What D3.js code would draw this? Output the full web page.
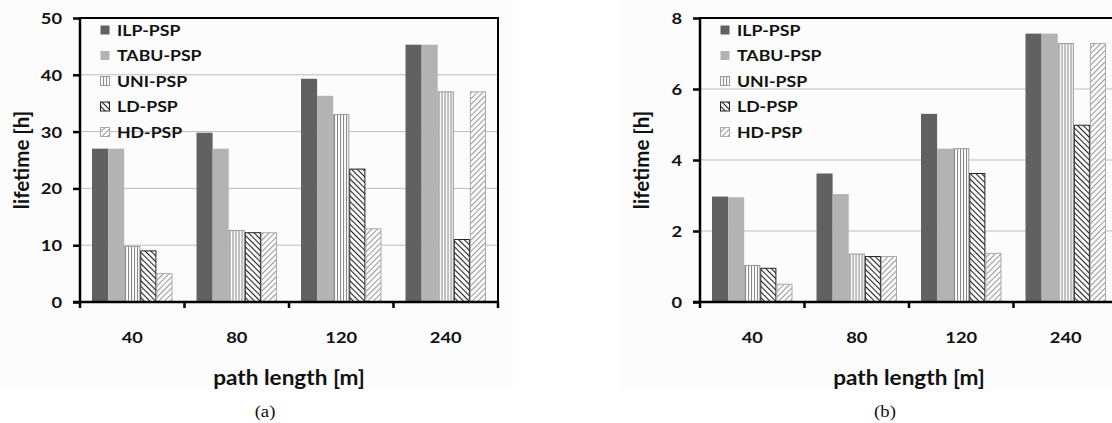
<!DOCTYPE html>
<html>
<head>
<meta charset="utf-8">
<script src="https://cdn.jsdelivr.net/npm/d3@7"></script>
<style>
  body { margin: 0; background: #fff; }
  text { font-family: Lato, "Open Sans", sans-serif; font-weight: bold; fill: #111; }
  .caption { font-family: "Liberation Serif", "DejaVu Serif", serif; font-weight: normal; }
</style>
</head>
<body>
<svg id="chart" width="1112" height="423"></svg>
<script>
const categories = ['40', '80', '120', '240'];
const seriesNames = ['ILP-PSP', 'TABU-PSP', 'UNI-PSP', 'LD-PSP', 'HD-PSP'];

// panel (a): lifetime [h] per path length, one array per series
const aILP = [27, 29.8, 39.3, 45.3];
const aTABU = [27, 27, 36.3, 45.3];
const aUNI = [9.8, 12.6, 33, 37];
const aLD = [9, 12.2, 23.4, 11];
const aHD = [5, 12.2, 12.9, 37];
const aTicks = [0, 10, 20, 30, 40, 50];

// panel (b)
const bILP = [2.97, 3.62, 5.3, 7.56];
const bTABU = [2.95, 3.04, 4.32, 7.56];
const bUNI = [1.03, 1.35, 4.32, 7.28];
const bLD = [0.95, 1.28, 3.62, 4.98];
const bHD = [0.5, 1.28, 1.37, 7.28];
const bTicks = [0, 2, 4, 6, 8];

const PLOT_W = 418;
const PLOT_TOP = 18;
const PLOT_BOTTOM = 302;
// the source picture is a bit wider than tall, text looks stretched
const STRETCH = 1.22;

const svg = d3.select('#chart');
const defs = svg.append('defs');

function addPattern(id, size, angle, color) {
    const p = defs.append('pattern')
        .attr('id', id)
        .attr('patternUnits', 'userSpaceOnUse')
        .attr('width', size)
        .attr('height', size)
        .attr('patternTransform', `rotate(${angle})`);
    p.append('rect').attr('width', size).attr('height', size).attr('fill', '#fff');
    p.append('line')
        .attr('x1', 0.5).attr('y1', 0)
        .attr('x2', 0.5).attr('y2', size)
        .attr('stroke', color)
        .attr('stroke-width', 1.2);
}
addPattern('uni', 3, 0, '#8a8a8a');
addPattern('ld', 4, -45, '#222');
addPattern('hd', 4, 45, '#999');

const styles = [
    {fill: '#616161', stroke: 'none'},
    {fill: '#b3b3b3', stroke: 'none'},
    {fill: 'url(#uni)', stroke: '#999'},
    {fill: 'url(#ld)', stroke: '#222'},
    {fill: 'url(#hd)', stroke: '#aaa'}
];

function placeText(sel, x, y, sx) {
    sel.attr('x', 0).attr('y', 0)
        .attr('transform', (d, i) => `translate(${typeof x === 'function' ? x(d, i) : x},${y}) scale(${sx},1)`);
}

function drawPanel(offsetX, series, ticks, caption, bgX, bgW) {
    svg.append('rect')
        .attr('x', bgX).attr('y', 0)
        .attr('width', bgW).attr('height', 390)
        .attr('fill', '#fcfcfc');

    const g = svg.append('g').attr('transform', `translate(${offsetX},0)`);

    const y = d3.scaleLinear()
        .domain([0, d3.max(ticks)])
        .range([PLOT_BOTTOM, PLOT_TOP]);

    const x0 = d3.scaleBand()
        .domain(categories)
        .range([0, PLOT_W]);

    const bw = x0.bandwidth();
    const x1 = d3.scaleBand()
        .domain(seriesNames)
        .range([bw * 0.115, bw * 0.885]);

    // gridlines
    g.append('g')
        .selectAll('line')
        .data(ticks.slice(1, -1))
        .join('line')
        .attr('x1', 0).attr('x2', PLOT_W)
        .attr('y1', d => y(d)).attr('y2', d => y(d))
        .attr('stroke', '#bdbdbd')
        .attr('stroke-width', 1);

    // bars
    const rows = categories.map((c, i) => ({cat: c, values: series.map(s => s[i])}));
    g.append('g')
        .selectAll('g')
        .data(rows)
        .join('g')
        .attr('transform', d => `translate(${x0(d.cat)},0)`)
        .selectAll('rect')
        .data(d => d.values.map((v, k) => ({name: seriesNames[k], value: v, k})))
        .join('rect')
        .attr('x', d => x1(d.name) + (styles[d.k].stroke === 'none' ? 0 : 0.5))
        .attr('y', d => y(d.value))
        .attr('width', d => x1.bandwidth() - (styles[d.k].stroke === 'none' ? 0 : 1))
        .attr('height', d => y(0) - y(d.value))
        .attr('fill', d => styles[d.k].fill)
        .attr('stroke', d => styles[d.k].stroke)
        .attr('stroke-width', 1);

    // frame: top and right
    g.append('path')
        .attr('d', `M0,${PLOT_TOP}H${PLOT_W}V${PLOT_BOTTOM}`)
        .attr('fill', 'none')
        .attr('stroke', '#000')
        .attr('stroke-width', 2);

    // y axis
    const yAxis = g.append('g')
        .call(d3.axisLeft(y).tickValues(ticks).tickSize(7).tickPadding(11));
    yAxis.select('.domain').remove();
    yAxis.selectAll('.tick line').attr('stroke', '#000').attr('stroke-width', 2.5);
    yAxis.selectAll('.tick text')
        .attr('font-size', 15)
        .attr('font-family', null)
        .attr('dy', '0.36em')
        .call(placeText, -18, 0, STRETCH);
    g.append('line')
        .attr('x1', 0).attr('x2', 0)
        .attr('y1', PLOT_TOP - 1).attr('y2', PLOT_BOTTOM + 6)
        .attr('stroke', '#000').attr('stroke-width', 2.5);

    // x axis with boundary ticks
    g.append('line')
        .attr('x1', -7).attr('x2', PLOT_W)
        .attr('y1', PLOT_BOTTOM).attr('y2', PLOT_BOTTOM)
        .attr('stroke', '#000').attr('stroke-width', 2.5);
    g.append('g')
        .selectAll('line')
        .data(categories.slice(1).concat(['end']))
        .join('line')
        .attr('x1', d => d === 'end' ? PLOT_W : x0(d))
        .attr('x2', d => d === 'end' ? PLOT_W : x0(d))
        .attr('y1', PLOT_BOTTOM).attr('y2', PLOT_BOTTOM + 6)
        .attr('stroke', '#000').attr('stroke-width', 2.5);
    g.append('g')
        .selectAll('text')
        .data(categories)
        .join('text')
        .attr('text-anchor', 'middle')
        .attr('font-size', 15)
        .text(d => d)
        .call(placeText, d => x0(d) + bw / 2, 343, STRETCH);

    // axis titles
    g.append('text')
        .attr('text-anchor', 'middle')
        .attr('font-size', 20)
        .text('path length [m]')
        .call(placeText, PLOT_W / 2, 385, 1.13);
    g.append('text')
        .attr('transform', `translate(${-51},160) rotate(-90)`)
        .attr('text-anchor', 'middle')
        .attr('font-size', 20.5)
        .text('lifetime [h]');

    // legend
    const legend = g.append('g')
        .selectAll('g')
        .data(seriesNames)
        .join('g')
        .attr('transform', (d, i) => `translate(20,${30 + i * 25.5})`);
    legend.append('rect')
        .attr('x', 0.5).attr('y', -4.5)
        .attr('width', 9).attr('height', 9)
        .attr('fill', (d, i) => styles[i].fill)
        .attr('stroke', (d, i) => styles[i].stroke);
    legend.append('text')
        .attr('font-size', 14.5)
        .text(d => d)
        .call(placeText, 17, 5.5, STRETCH);

    svg.append('text')
        .attr('class', 'caption')
        .attr('text-anchor', 'middle')
        .attr('font-size', 17)
        .text(caption)
        .call(placeText, offsetX + 185, 417, 1.1);
}

drawPanel(80, [aILP, aTABU, aUNI, aLD, aHD], aTicks, '(a)', 0, 513);
drawPanel(700, [bILP, bTABU, bUNI, bLD, bHD], bTicks, '(b)', 618, 494);
</script>
</body>
</html>
